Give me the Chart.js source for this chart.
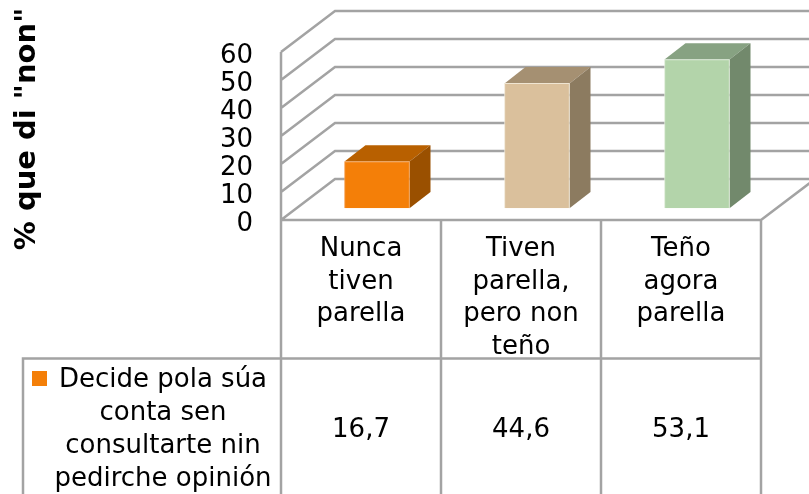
<!DOCTYPE html>
<html><head><meta charset="utf-8">
<style>html,body{margin:0;padding:0;background:#fff}canvas{display:block}</style>
<script src="https://cdn.jsdelivr.net/npm/chart.js@4"></script>
</head><body><canvas id="c" width="809" height="494"></canvas>
<script>
const categories = [["Nunca","tiven","parella"],["Tiven","parella,","pero non","teño"],["Teño","agora","parella"]];
const seriesLabel = ["Decide pola súa","conta sen","consultarte nin","pedirche opinión"];
const seriesValues = [16.7,44.6,53.1];
const axisTitle = '% que di "non"';
const frontColors = ['#F47F08','#DAC09C','#B3D4AA'];
const topColors = ['#B86000','#A59072','#87A282'];
const sideColors = ['#9A5000','#8C7B60','#72896C'];
const edgeColors = ['#F6A050','#EFE5D2','#DCEBD6'];
const gridColor = '#A3A3A3';
const font = 'DejaVu Sans, Verdana, sans-serif';
const fontSize = 26;
const wall = {dx:54, dy:41};
const barShift = {dx:16, dy:11.7};
const depth = {dx:21, dy:16.3};

const scene = {
  id:'scene',
  beforeDatasetsDraw(chart){
    const {ctx, scales:{x,y}} = chart;
    const L=x.left, R=x.right;
    ctx.save();
    ctx.strokeStyle=gridColor; ctx.lineWidth=2.5;
    ctx.beginPath();
    y.ticks.forEach((t,i)=>{
      const p=y.getPixelForTick(i);
      ctx.moveTo(L,p); ctx.lineTo(L+wall.dx,p-wall.dy); ctx.lineTo(chart.width,p-wall.dy);
    });
    ctx.moveTo(L,y.getPixelForValue(60)); ctx.lineTo(L,chart.height);
    ctx.moveTo(L,y.bottom); ctx.lineTo(R,y.bottom); ctx.lineTo(R+wall.dx,y.bottom-wall.dy);
    x.ticks.forEach((t,i)=>{
      const p=x.getPixelForTick(i)+(R-L)/x.ticks.length/2;
      ctx.moveTo(p,y.bottom); ctx.lineTo(p,chart.height);
    });
    ctx.moveTo(23,chart.height); ctx.lineTo(23,358.5); ctx.lineTo(R,358.5);
    ctx.stroke();
    ctx.restore();
    // bars sit inside the box, so they are shifted into its depth
    ctx.save();
    ctx.translate(barShift.dx,-barShift.dy);
    chart.getDatasetMeta(0).data.forEach((b,i)=>{
      const l=b.x-b.width/2, r=b.x+b.width/2, tp=b.y, bt=b.base;
      ctx.fillStyle=topColors[i];
      ctx.beginPath();ctx.moveTo(l,tp);ctx.lineTo(l+depth.dx,tp-depth.dy);ctx.lineTo(r+depth.dx,tp-depth.dy);ctx.lineTo(r,tp);ctx.closePath();ctx.fill();
      ctx.fillStyle=sideColors[i];
      ctx.beginPath();ctx.moveTo(r,tp);ctx.lineTo(r+depth.dx,tp-depth.dy);ctx.lineTo(r+depth.dx,bt-depth.dy);ctx.lineTo(r,bt);ctx.closePath();ctx.fill();
    });
  },
  afterDatasetsDraw(chart){
    const {ctx, scales:{x}} = chart;
    ctx.restore();
    ctx.save();
    ctx.fillStyle='#000'; ctx.font=fontSize+'px '+font;
    ctx.textAlign='center'; ctx.textBaseline='middle';
    seriesValues.forEach((v,i)=>ctx.fillText(v.toFixed(1).replace('.',','),x.getPixelForTick(i),430));
    seriesLabel.forEach((s,i)=>ctx.fillText(s,163,380.5+i*33));
    ctx.fillStyle=frontColors[0];
    ctx.fillRect(32,371,15,15);
    ctx.restore();
    ctx.save();
    ctx.fillStyle='#000'; ctx.font='bold 29px '+font;
    ctx.textAlign='center'; ctx.textBaseline='alphabetic';
    ctx.translate(35,129); ctx.rotate(-Math.PI/2);
    ctx.fillText(axisTitle,0,0);
    ctx.restore();
  }
};

new Chart(document.getElementById('c'),{
  type:'bar',
  data:{labels:categories,datasets:[{label:seriesLabel.join(' '),data:seriesValues,
    backgroundColor:frontColors,borderColor:edgeColors,borderWidth:1,
    barThickness:65}]},
  options:{
    responsive:false,animation:false,
    layout:{padding:{top:52,right:48,left:0,bottom:0}},
    plugins:{legend:{display:false},tooltip:{enabled:false}},
    scales:{
      x:{grid:{display:false},border:{display:false},
        afterFit(s){s.height=274;},
        ticks:{maxRotation:0,minRotation:0,autoSkip:false,color:'#000',padding:5,
          font:{family:font,size:fontSize,lineHeight:1.25}}},
      y:{min:0,max:60,grid:{display:false},border:{display:false},
        afterFit(s){s.width=281;},
        ticks:{stepSize:10,autoSkip:false,color:'#000',padding:20,labelOffset:4,font:{family:font,size:26,lineHeight:1}}}
    }
  },
  plugins:[scene]
});
</script></body></html>
